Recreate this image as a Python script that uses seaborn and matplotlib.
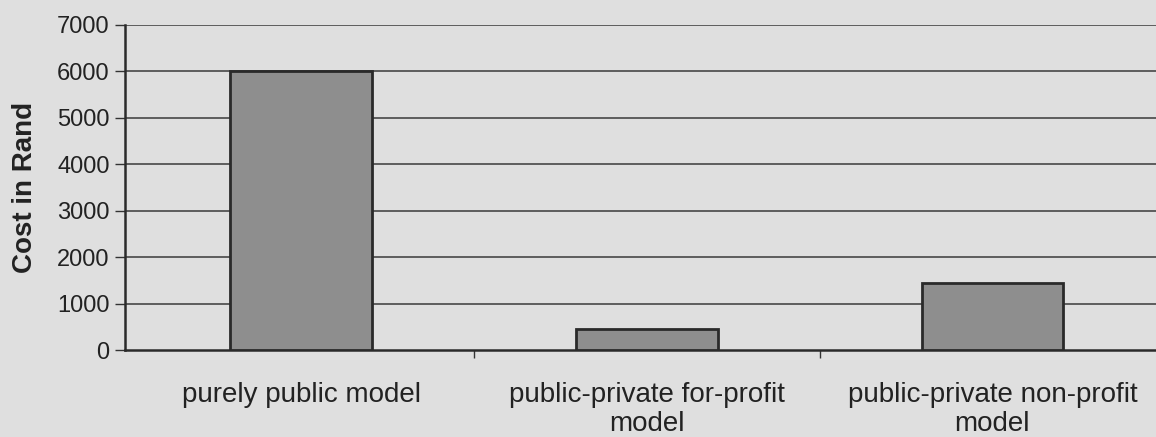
import matplotlib
matplotlib.use("Agg")
import matplotlib.pyplot as plt
import seaborn as sns
import pandas as pd
import numpy as np

categories = ["purely public model", "public-private for-profit\nmodel", "public-private non-profit\nmodel"]
costs = [6010, 450, 1440]
yticks = [0, 1000, 2000, 3000, 4000, 5000, 6000, 7000]

sns.set_theme(style="white")
plt.rcParams['font.family'] = ['Liberation Sans', 'DejaVu Sans']

bg = "#dfdfdf"
fig = plt.figure(figsize=(11.56, 4.37), dpi=100, facecolor=bg)
ax = fig.add_axes([0.108, 0.199, 0.9, 0.744])
ax.set_facecolor(bg)

df = pd.DataFrame({"cat": categories, "cost": costs})
sns.barplot(data=df, x="cat", y="cost", ax=ax, color="#8e8e8e", saturation=1,
            width=0.41, edgecolor="#2a2a2a", linewidth=2, zorder=3)

ax.set_ylim(0, 7000)
ax.set_xlim(-0.51, 2.5)
ax.set_yticks(yticks)
ax.set_yticklabels([str(v) for v in yticks], fontsize=17, color="#222222")
for v in yticks[1:]:
    ax.axhline(v, color="#3a3a3a", linewidth=1.1, zorder=1)

# category labels at centers (minor), boundaries as major ticks
ax.set_xticks([0.5, 1.5, 2.5])
ax.set_xticklabels([])
ax.set_xticks(range(len(categories)), minor=True)
ax.set_xticklabels(categories, minor=True, fontsize=20, color="#222222", linespacing=1.15)
ax.tick_params(axis="x", which="major", direction="out", length=6, width=1, color="#333333", bottom=True)
ax.tick_params(axis="x", which="minor", length=0, pad=23)
ax.tick_params(axis="y", direction="out", length=7, width=1, color="#333333", left=True, pad=4)

ax.set_xlabel("")
ax.set_ylabel("Cost in Rand", fontsize=20, fontweight="bold", color="#222222", labelpad=14)

for s in ["top", "right"]:
    ax.spines[s].set_visible(False)
for s in ["left", "bottom"]:
    ax.spines[s].set_visible(True)
    ax.spines[s].set_color("#2a2a2a")
    ax.spines[s].set_linewidth(1.8)

fig.savefig("out.png", dpi=100, facecolor=bg)
